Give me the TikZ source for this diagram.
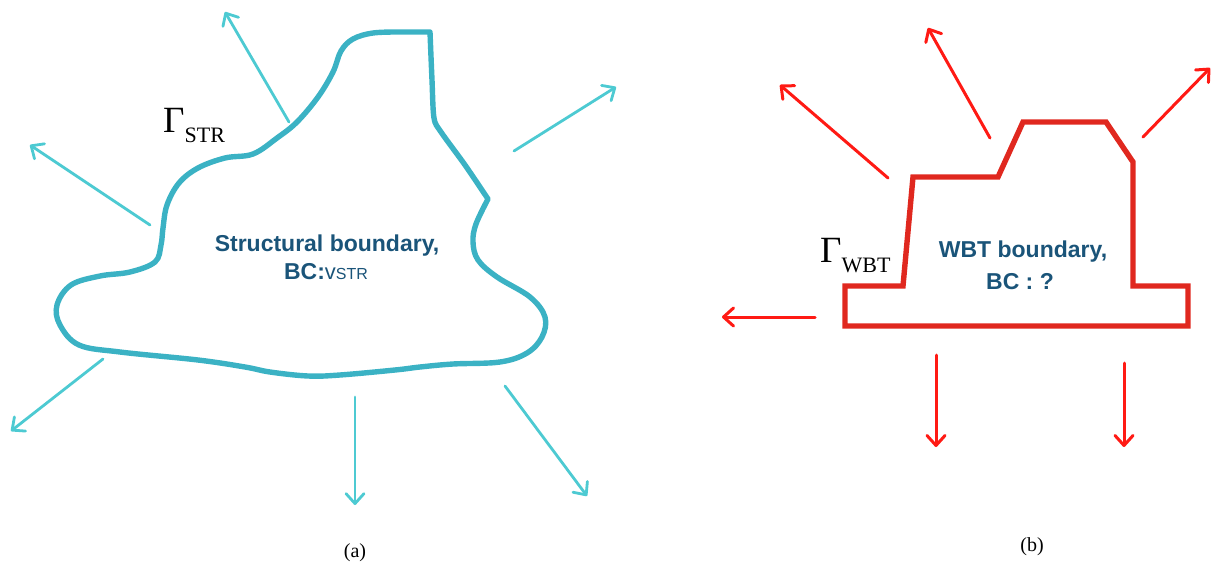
\documentclass[tikz,border=0pt]{standalone}
\usepackage{fontspec}
\setmainfont{Liberation Serif}
\setsansfont{Liberation Sans}
\usetikzlibrary{arrows.meta}
\definecolor{blobc}{HTML}{3BB2C4}
\definecolor{arrc}{HTML}{4DCAD2}
\definecolor{txtc}{HTML}{1A5479}
\definecolor{redc}{HTML}{E0281F}
\definecolor{rarrc}{HTML}{FF1A14}
\begin{document}
\begin{tikzpicture}[x=1pt,y=-1pt,
  carrow/.style={draw=arrc, line width=2.8pt, line cap=round, -{Straight Barb[length=10pt 0,width=18pt 0,round]}},
  rarrow/.style={draw=rarrc, line width=3pt, line cap=round, -{Straight Barb[length=10pt 0,width=18pt 0,round]}},
  maintxt/.style={text=txtc, font=\sffamily\bfseries\fontsize{23}{23}\selectfont, anchor=base, inner sep=0pt},
  gam/.style={anchor=base west, inner sep=0pt, font=\fontsize{37}{37}\selectfont},
  captxt/.style={anchor=base, inner sep=0pt, font=\fontsize{20}{20}\selectfont}]
\useasboundingbox (0,0) rectangle (1213,562);
% ---------- (a) structural boundary ----------
\draw[blobc, line width=5.4pt, line join=round, line cap=round]
  plot[smooth, tension=0.5] coordinates {
  (430,32) (432,80) (434,118) (441,132) (465,165) (488,199)}
  -- plot[smooth, tension=0.6] coordinates {
  (488,199) (476,224) (473,242) (478,260) (497,277) (530,297) (545,317)
  (542,337) (527,353) (500,362) (453,364) (420,367) (395,370) (340,375)
  (308,376) (270,372) (245,367) (198,360) (120,352) (79,345) (60,325)
  (57,305) (71,285) (100,276) (130,272) (155,262) (161,245) (163,228)
  (167,205) (179,183) (198,168) (225,158) (253,154) (277,138) (297,122)
  (318,97) (333,72) (341,51) (353,39) (373,33) (400,32)} -- (430,32) -- cycle;
\coordinate (a1s) at (289,122); \coordinate (a1e) at (225,12);
\coordinate (a2s) at (150,225); \coordinate (a2e) at (30,145);
\coordinate (a3s) at (103,359); \coordinate (a3e) at (11,431);
\coordinate (a4s) at (355,397); \coordinate (a4e) at (355,505);
\coordinate (a5s) at (505,386); \coordinate (a5e) at (587,496);
\coordinate (a6s) at (514,151); \coordinate (a6e) at (616,87);
\foreach \i in {1,...,6} \draw[carrow] (a\i s) -- (a\i e);
\node[gam] (gstr) at (163,132) {Γ\raisebox{-10pt}{\fontsize{22}{22}\selectfont STR}};
\node[maintxt] (s1) at (327,251) {Structural boundary,};
\node[maintxt] (s2) at (326,279) {BC:{\mdseries\fontsize{22}{22}\selectfont v}{\mdseries\fontsize{16}{16}\selectfont STR}};
\node[captxt] (la) at (355,557) {(a)};
% ---------- (b) WBT boundary ----------
\draw[redc, line width=5.4pt, line join=miter]
  (845,286) -- (903,286) -- (913,177) -- (998,177) -- (1023,122) -- (1106,122)
  -- (1133,162) -- (1133,286) -- (1188,286) -- (1188,326) -- (845,326) -- cycle;
\coordinate (b1s) at (888,178); \coordinate (b1e) at (780,85);
\coordinate (b2s) at (990,138); \coordinate (b2e) at (928,28);
\coordinate (b3s) at (1143,137); \coordinate (b3e) at (1210,68);
\coordinate (b4s) at (815,317); \coordinate (b4e) at (722,317);
\coordinate (b5s) at (936,355); \coordinate (b5e) at (936,447);
\coordinate (b6s) at (1124,363); \coordinate (b6e) at (1124,447);
\foreach \i in {1,...,6} \draw[rarrow] (b\i s) -- (b\i e);
\node[gam] (gwbt) at (820,262) {Γ\raisebox{-10pt}{\fontsize{22}{22}\selectfont WBT}};
\node[maintxt] (w1) at (1023,257) {WBT boundary,};
\node[maintxt] (w2) at (1020,289) {BC : ?};
\node[captxt] (lb) at (1032,551) {(b)};
\end{tikzpicture}
\end{document}
